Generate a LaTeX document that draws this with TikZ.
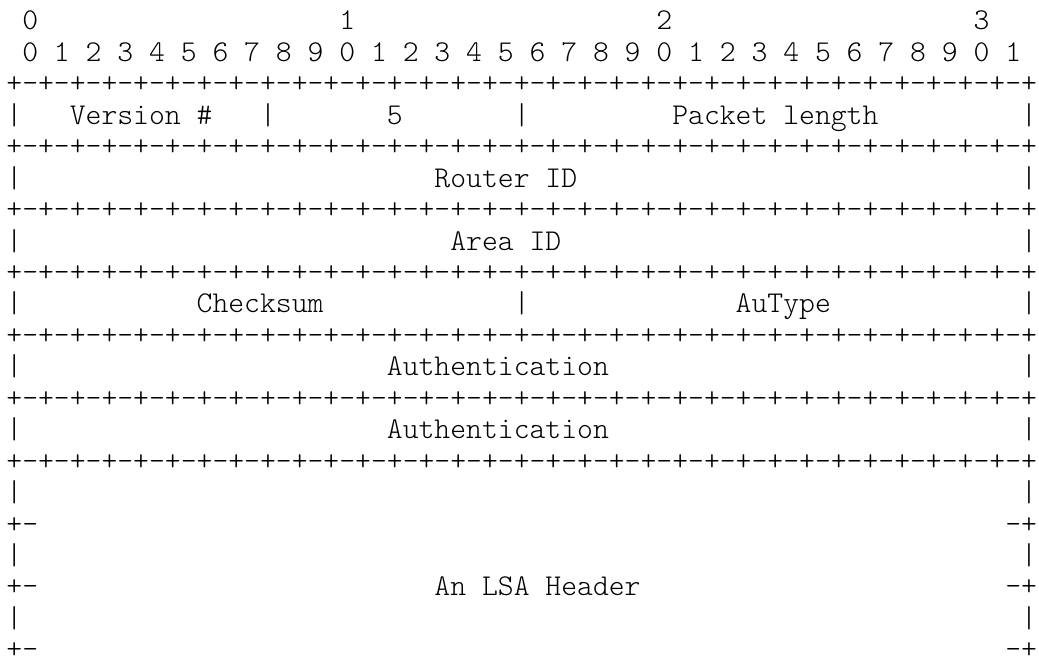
\documentclass[tikz,border=0pt]{standalone}
\usepackage{fontspec}
\newfontfamily\pktfont{lmmonolt10-regular}[Extension=.otf]
\usepackage{tikz}
\usetikzlibrary{positioning}
% one character cell of the monospace font
\newcommand\pktgap[1]{\kern#1\fontcharwd\font`0\relax}
\newcommand\bitrule{+-+-+-+-+-+-+-+-+-+-+-+-+-+-+-+-+-+-+-+-+-+-+-+-+-+-+-+-+-+-+-+-+}
\tikzstyle{row}=[anchor=base west,inner sep=0pt,text=black,
  font=\fontsize{15.1pt}{15.72pt}\pktfont]

\begin{document}
\begin{tikzpicture}[node distance=15.72pt]
    \useasboundingbox (0,0) rectangle (519.5pt,-331pt);

    % bit ruler
    \node[row] (l_1) at (3pt,-15pt) {\pktgap{1}0\pktgap{19}1\pktgap{19}2\pktgap{19}3};
    \node[below=of l_1.base west,row] (l_2) {\pktgap{1}0 1 2 3 4 5 6 7 8 9 0 1 2 3 4 5 6 7 8 9 0 1 2 3 4 5 6 7 8 9 0 1};
    \node[below=of l_2.base west,row] (l_3) {\bitrule};

    % packet header
    \node[below=of l_3.base west,row] (l_4) {|\pktgap{3}Version \#\pktgap{3}|\pktgap{7}5\pktgap{7}|\pktgap{9}Packet length\pktgap{9}|};
    \node[below=of l_4.base west,row] (l_5) {\bitrule};
    \node[below=of l_5.base west,row] (l_6) {|\pktgap{26}Router ID\pktgap{28}|};
    \node[below=of l_6.base west,row] (l_7) {\bitrule};
    \node[below=of l_7.base west,row] (l_8) {|\pktgap{27}Area ID\pktgap{29}|};
    \node[below=of l_8.base west,row] (l_9) {\bitrule};
    \node[below=of l_9.base west,row] (l_10) {|\pktgap{11}Checksum\pktgap{12}|\pktgap{13}AuType\pktgap{12}|};
    \node[below=of l_10.base west,row] (l_11) {\bitrule};
    \node[below=of l_11.base west,row] (l_12) {|\pktgap{23}Authentication\pktgap{26}|};
    \node[below=of l_12.base west,row] (l_13) {\bitrule};
    \node[below=of l_13.base west,row] (l_14) {|\pktgap{23}Authentication\pktgap{26}|};
    \node[below=of l_14.base west,row] (l_15) {\bitrule};

    % LSA header
    \node[below=of l_15.base west,row] (l_16) {|\pktgap{63}|};
    \node[below=of l_16.base west,row] (l_17) {+-\pktgap{61}-+};
    \node[below=of l_17.base west,row] (l_18) {|\pktgap{63}|};
    \node[below=of l_18.base west,row] (l_19) {+-\pktgap{25}An LSA Header\pktgap{23}-+};
    \node[below=of l_19.base west,row] (l_20) {|\pktgap{63}|};
    \node[below=of l_20.base west,row] (l_21) {+-\pktgap{61}-+};
\end{tikzpicture}
\end{document}
